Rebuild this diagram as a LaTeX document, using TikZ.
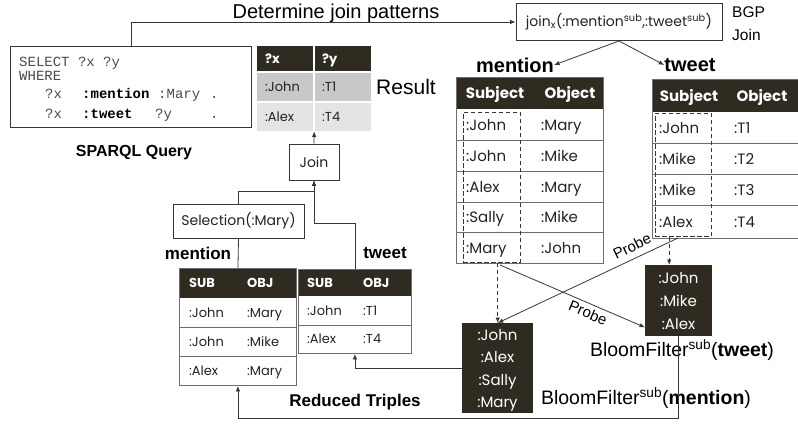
\documentclass[tikz,border=0pt]{standalone}
\usepackage{fontspec}
\setmainfont{Liberation Sans}
\setmonofont{Liberation Mono}
\newfontfamily\cgf{Poppins}
\usetikzlibrary{arrows.meta,calc}
\definecolor{hd}{RGB}{47,43,33}
\definecolor{ln}{RGB}{55,55,55}
\definecolor{bd}{RGB}{110,110,110}
\definecolor{rA}{RGB}{200,200,200}
\definecolor{rB}{RGB}{228,228,228}
\definecolor{qtx}{RGB}{75,75,75}
\definecolor{tx}{RGB}{35,35,35}
\newcommand{\fs}[1]{\fontsize{#1}{#1}\selectfont}
\begin{document}
\begin{tikzpicture}[x=1pt,y=-1pt,
  >={Latex[length=5.5pt,width=4.5pt]},
  conn/.style={draw=ln, line width=0.8pt},
  dsh/.style={dash pattern=on 4.5pt off 2.5pt},
  frm/.style={draw=bd, line width=0.9pt, anchor=north west, inner sep=0pt},
  hdr/.style={fill=hd, anchor=north west, inner sep=0pt},
  rowl/.style={draw=bd, line width=0.9pt},
  bx/.style={draw=ln, line width=0.9pt, fill=white, inner sep=0pt},
  dbx/.style={draw=ln, line width=0.8pt, dsh, anchor=north west, inner sep=0pt},
  cgA/.style={anchor=base west, inner sep=0pt, font=\cgf\fs{15}, text=tx},
  cgB/.style={anchor=base west, inner sep=0pt, font=\cgf\fs{13}, text=tx},
  hA/.style={anchor=base, inner sep=0pt, font=\cgf\bfseries\fs{15}, text=white},
  hB/.style={anchor=base west, inner sep=0pt, font=\cgf\bfseries\fs{13}, text=white},
  bft/.style={anchor=base, inner sep=0pt, font=\cgf\fs{15}, text=white},
  qt/.style={anchor=base west, inner sep=0pt, font=\ttfamily\fs{14}, text=qtx},
  qb/.style={anchor=base west, inner sep=0pt, font=\ttfamily\bfseries\fs{14}, text=black},
]
\useasboundingbox (0,0) rectangle (798,424);

% ---------------- SPARQL query
\node[bx, minimum width=241pt, minimum height=81pt, anchor=north west] (sq) at (10,46) {};
\node[qt] (q1) at (19,66) {SELECT ?x ?y};
\node[qt] (q2) at (19,80) {WHERE};
\node[qt] (q3a) at (45,98) {?x};
\node[qb] (q3b) at (82,98) {:mention};
\node[qt] (q3c) at (158,98) {:Mary};
\node[qt] (q3d) at (210,98) {.};
\node[qt] (q4a) at (45,118) {?x};
\node[qb] (q4b) at (82,118) {:tweet};
\node[qt] (q4c) at (155,118) {?y};
\node[qt] (q4d) at (210,118) {.};
\node[font=\bfseries\fs{16}, inner sep=0pt] (sqlab) at (134,153) {SPARQL Query};

% ---------------- BGP join box
\node[bx, minimum width=206pt, minimum height=37pt] (jb) at (619,22)
  {\cgf\fs{14}\color{tx}join\textsubscript{x}(:mention\textsuperscript{sub},:tweet\textsuperscript{sub})};
\node[font=\fs{20}, inner sep=0pt] (det) at (336,13) {Determine join patterns};
\node[font=\fs{15.5}, anchor=west, inner sep=0pt] (bgp1) at (732,12) {BGP};
\node[font=\fs{15.5}, anchor=west, inner sep=0pt] (bgp2) at (732,35) {Join};
\node[font=\bfseries\fs{20}, inner sep=0pt] (mlab) at (515,65) {mention};
\node[font=\bfseries\fs{20}, inner sep=0pt] (tlab) at (690,65) {tweet};

% ---------------- Result table
\node[anchor=north west, inner sep=0pt, minimum width=114pt, minimum height=85pt] (res) at (257,46) {};
\fill[hd] (257,46) rectangle (371,72);
\fill[rA] (257,72) rectangle (371,102);
\fill[rB] (257,102) rectangle (371,131);
\draw[white, line width=1.5pt] (257,72) -- (371,72) (257,102) -- (371,102) (314,46) -- (314,131);
\node[hB] (rh1) at (265,63.5) {?x};
\node[hB] (rh2) at (322,63.5) {?y};
\node[cgB] (r11) at (265,91.5) {:John};
\node[cgB] (r12) at (322,91.5) {:T1};
\node[cgB] (r21) at (265,121) {:Alex};
\node[cgB] (r22) at (322,121) {:T4};
\node[font=\fs{21}, inner sep=0pt] (reslab) at (406,87) {Result};

% ---------------- Join / Selection
\node[bx, minimum width=50pt, minimum height=36pt] (join) at (314,162) {\cgf\fs{14}\color{tx}Join};
\node[bx, minimum width=131pt, minimum height=34pt] (sel) at (238.5,221) {\cgf\fs{14}\color{tx}Selection(:Mary)};

% ---------------- left mention table
\node[hdr, minimum width=117pt, minimum height=30pt] (lmh) at (179,268) {};
\node[frm, minimum width=117pt, minimum height=117pt] (lm) at (179,268) {};
\draw[rowl] (179,327) -- (296,327) (179,356) -- (296,356);
\node[hB] (lmh1) at (189,287.5) {SUB};
\node[hB] (lmh2) at (247,287.5) {OBJ};
\node[cgB] (lm11) at (189,317) {:John};
\node[cgB] (lm12) at (247,317) {:Mary};
\node[cgB] (lm21) at (189,346) {:John};
\node[cgB] (lm22) at (247,346) {:Mike};
\node[cgB] (lm31) at (189,375) {:Alex};
\node[cgB] (lm32) at (247,375) {:Mary};
\node[font=\bfseries\fs{17}, inner sep=0pt] (lml) at (198,253) {mention};

% ---------------- left tweet table
\node[hdr, minimum width=113pt, minimum height=27pt] (lth) at (298,269) {};
\node[frm, minimum width=113pt, minimum height=84pt] (lt) at (298,269) {};
\draw[rowl] (298,325) -- (411,325);
\node[hB] (lth1) at (307,287) {SUB};
\node[hB] (lth2) at (363,287) {OBJ};
\node[cgB] (lt11) at (307,315) {:John};
\node[cgB] (lt12) at (363,315) {:T1};
\node[cgB] (lt21) at (307,343.5) {:Alex};
\node[cgB] (lt22) at (363,343.5) {:T4};
\node[font=\bfseries\fs{17}, inner sep=0pt] (ltl) at (385,253) {tweet};
\node[font=\bfseries\fs{17}, inner sep=0pt] (red) at (355,402) {Reduced Triples};

% ---------------- right mention table
\node[hdr, minimum width=147pt, minimum height=32pt] (mth) at (456,77) {};
\node[frm, minimum width=147pt, minimum height=186pt] (mt) at (456,77) {};
\draw[rowl] (456,140) -- (603,140) (456,171) -- (603,171) (456,202) -- (603,202) (456,232) -- (603,232);
\node[hA] (mth1) at (495,98.5) {Subject};
\node[hA] (mth2) at (570,98.5) {Object};
\node[cgA] (m11) at (466,130) {:John};
\node[cgA] (m12) at (541,130) {:Mary};
\node[cgA] (m21) at (466,161) {:John};
\node[cgA] (m22) at (541,161) {:Mike};
\node[cgA] (m31) at (466,192) {:Alex};
\node[cgA] (m32) at (541,192) {:Mary};
\node[cgA] (m41) at (466,222) {:Sally};
\node[cgA] (m42) at (541,222) {:Mike};
\node[cgA] (m51) at (466,253) {:Mary};
\node[cgA] (m52) at (541,253) {:John};
\node[dbx, minimum width=57pt, minimum height=150pt] (md) at (463,112) {};

% ---------------- right tweet table
\node[hdr, minimum width=150pt, minimum height=33pt] (tth) at (652,79) {};
\node[frm, minimum width=150pt, minimum height=159pt] (tt) at (652,79) {};
\draw[rowl] (652,143) -- (800,143) (652,174) -- (800,174) (652,205) -- (800,205);
\node[hA] (tth1) at (689,101) {Subject};
\node[hA] (tth2) at (762,101) {Object};
\node[cgA] (t11) at (659,133) {:John};
\node[cgA] (t12) at (734,133) {:T1};
\node[cgA] (t21) at (659,164) {:Mike};
\node[cgA] (t22) at (734,164) {:T2};
\node[cgA] (t31) at (659,195) {:Mike};
\node[cgA] (t32) at (734,195) {:T3};
\node[cgA] (t41) at (659,227) {:Alex};
\node[cgA] (t42) at (734,227) {:T4};
\node[dbx, minimum width=56pt, minimum height=123pt] (td) at (655,113) {};

% ---------------- Bloom filters
\node[hdr, minimum width=71pt, minimum height=90pt] (mbf) at (462,323) {};
\node[bft] (mb1) at (497.5,340) {:John};
\node[bft] (mb2) at (497.5,362) {:Alex};
\node[bft] (mb3) at (497.5,385) {:Sally};
\node[bft] (mb4) at (497.5,407) {:Mary};
\node[hdr, minimum width=67pt, minimum height=71pt] (tbf) at (645,265) {};
\node[bft] (tb1) at (678.5,283) {:John};
\node[bft] (tb2) at (678.5,306) {:Mike};
\node[bft] (tb3) at (678.5,329) {:Alex};
\node[font=\fs{19.5}, inner sep=0pt] (bftl) at (682,350) {BloomFilter\textsuperscript{sub}(\textbf{tweet})};
\node[font=\fs{19.5}, inner sep=0pt] (bfml) at (646,398) {BloomFilter\textsuperscript{sub}(\textbf{mention})};

% ---------------- connectors
\draw[conn,->] (sq.north) |- (jb.west);
\draw[conn,->] (jb.south) -- (mlab.east);
\draw[conn,->] (jb.south) -- (tlab.west);
\draw[conn,->] (join.north) -- (res.south);
\draw[conn] (lm.north) -- (sel.south);
\draw[conn,->] (sel.north) -- ++(0,-12) -| (join.south);
\draw[conn,->] (lt.north) -- ++(0,-46) -| (join.south);
\draw[conn,->] (mbf.west) -| (lt.south);
\draw[conn,->] (tbf.south) -- ++(0,82) -| (lm.south);
\draw[conn,dsh,->] (md.south -| mbf.north) -- (mbf.north);
\coordinate (tin) at ($(tbf.north)+(-9.5,0)$);
\draw[conn,dsh,->] (td.south -| tin) -- (tin);
\coordinate (p1s) at (500,265);
\coordinate (p1e) at ($(tbf.south west)+(0,-9)$);
\draw[conn,->] (p1s) -- (p1e);
\coordinate (p2s) at (678,238);
\draw[conn,->] (p2s) -- (mbf.north);
\node[font=\fs{15}, inner sep=0pt, rotate=-23.4] (pr1) at (588,313) {Probe};
\node[font=\fs{15}, inner sep=0pt, rotate=26] (pr2) at (632,246) {Probe};
\end{tikzpicture}
\end{document}
